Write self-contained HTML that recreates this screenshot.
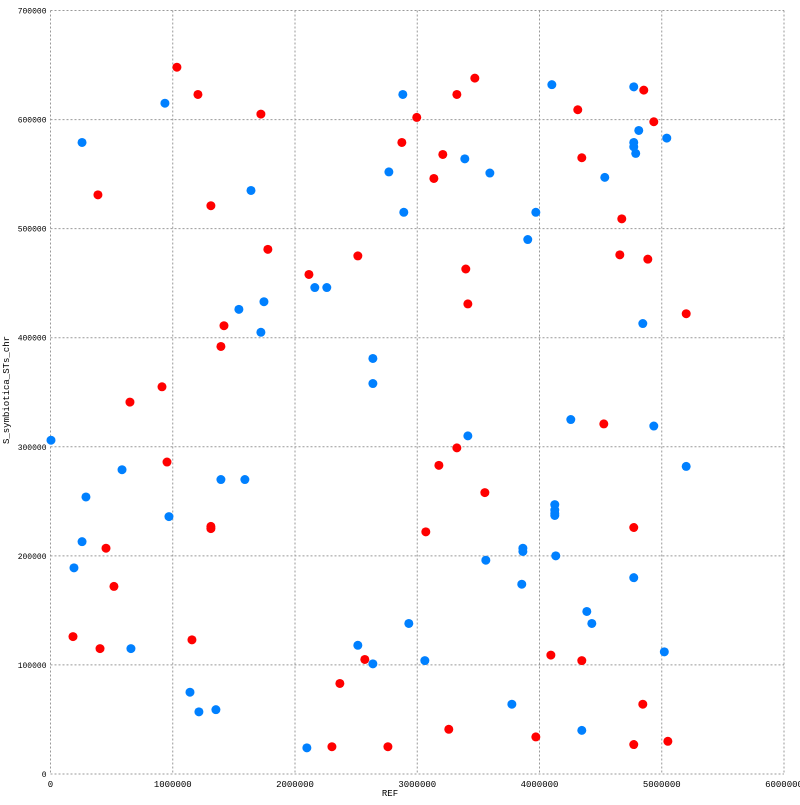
<!DOCTYPE html>
<html><head><meta charset="utf-8"><style>
body{margin:0;background:#fff}
svg text{font-family:"Liberation Mono","DejaVu Sans Mono",monospace;font-size:9px;fill:#000}
</style></head><body>
<svg id="chart" width="800" height="800" xmlns="http://www.w3.org/2000/svg">
<g id="grid"></g>
<g id="ticks"></g>
<g id="dots"></g>
<text x="390" y="796" text-anchor="middle">REF</text>
<text transform="translate(9,390) rotate(-90)" text-anchor="middle">S_symbiotica_STs_chr</text>
</svg>
<script>
const xTicks=[0,1000000,2000000,3000000,4000000,5000000,6000000];
const yTicks=[0,100000,200000,300000,400000,500000,600000,700000];
const blueX=[4,258,192,290,258,585,658,936,969,1141,1214,1353,1394,1541,1590,1640,1721,1746,2162,2260,2097,2514,2637,2637,2637,2768,2882,2890,2931,3062,3389,3414,3561,3594,3774,3855,3864,3864,3904,3970,4101,4125,4125,4125,4125,4133,4256,4346,4387,4428,4534,4771,4771,4771,4787,4812,4845,4935,4771,5021,5041,5200];
const blueY=[306,579,189,254,213,279,115,615,236,75,57,59,270,426,270,535,405,433,446,446,24,118,381,358,101,552,623,515,138,104,564,310,196,551,64,174,207,204,490,515,632,247,242,239,237,200,325,40,149,138,547,630,579,575,569,590,413,319,180,112,583,282];
const redX=[1034,1206,1721,388,1312,1778,1419,1394,912,650,953,454,519,184,405,1157,1312,1312,2114,2514,2571,2367,2302,2760,2874,2996,3209,3136,3324,3471,3397,3414,3324,3177,3553,3070,3258,3970,4093,4313,4346,4346,4526,4673,4771,4853,4935,4657,4886,5200,4845,4771,5050];
const redY=[648,623,605,531,521,481,411,392,355,341,286,207,172,126,115,123,227,225,458,475,105,83,25,25,579,602,568,546,623,638,463,431,299,283,258,222,41,34,109,609,565,104,321,509,226,627,598,476,472,422,64,27,30];
const X0=50.5,X1=784,Y0=774,Y1=10.5;
const sx=v=>X0+(v/6000000)*(X1-X0);
const sy=v=>Y0-(v/700000)*(Y0-Y1);
const NS='http://www.w3.org/2000/svg';
const grid=document.getElementById('grid'),ticks=document.getElementById('ticks'),dots=document.getElementById('dots');
xTicks.forEach(t=>{
 const l=document.createElementNS(NS,'line');
 
 
 l.setAttribute('x1',sx(t));l.setAttribute('x2',sx(t));l.setAttribute('y1',Y1);l.setAttribute('y2',Y0);
 l.setAttribute('stroke','#999');l.setAttribute('stroke-dasharray','2,2');grid.appendChild(l);
 const tx=document.createElementNS(NS,'text');
 
 
 tx.setAttribute('x',sx(t));tx.setAttribute('y',Y0+13);tx.setAttribute('text-anchor','middle');
 tx.textContent=t;ticks.appendChild(tx);
});
yTicks.forEach(t=>{
 const l=document.createElementNS(NS,'line');
 
 
 l.setAttribute('x1',X0);l.setAttribute('x2',X1);l.setAttribute('y1',sy(t));l.setAttribute('y2',sy(t));
 l.setAttribute('stroke','#999');l.setAttribute('stroke-dasharray','2,2');grid.appendChild(l);
 const tx=document.createElementNS(NS,'text');
 
 
 tx.setAttribute('x',X0-4);tx.setAttribute('y',sy(t)+3);tx.setAttribute('text-anchor','end');
 tx.setAttribute('style','font-size:8px');
 tx.textContent=t;ticks.appendChild(tx);
});
function plot(xs,ys,color,name){
 xs.forEach((x,i)=>{
  const c=document.createElementNS(NS,'circle');
  
  
  c.setAttribute('cx',sx(x*1000));c.setAttribute('cy',sy(ys[i]*1000));c.setAttribute('r',4.5);
  c.setAttribute('fill',color);dots.appendChild(c);
 });
}
plot(blueX,blueY,'#0080ff','blue-point');
plot(redX,redY,'#ff0000','red-point');
</script>
</body></html>
